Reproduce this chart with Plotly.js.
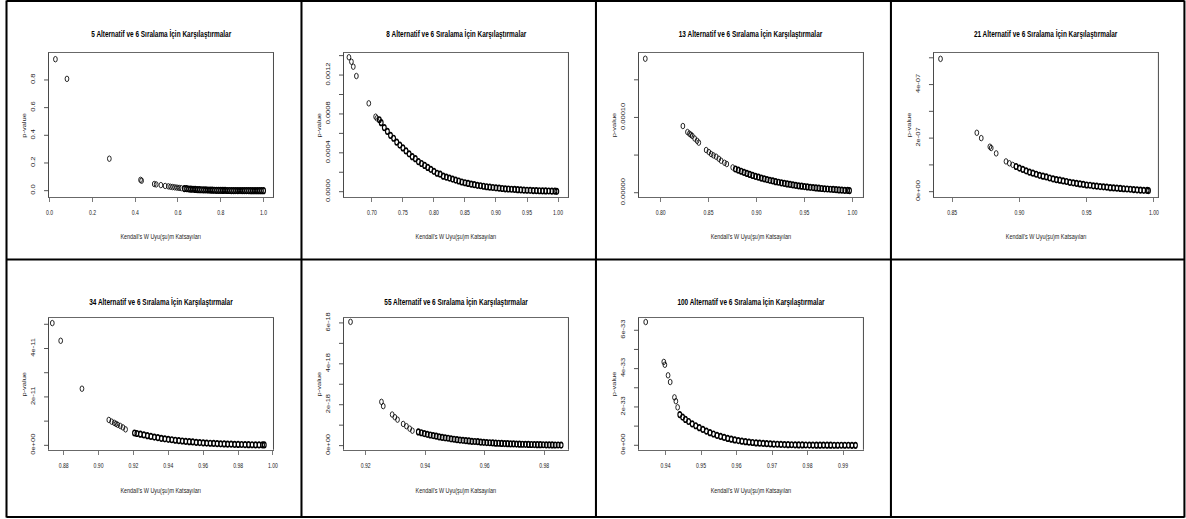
<!DOCTYPE html>
<html><head><meta charset="utf-8">
<script src="https://cdn.plot.ly/plotly-3.0.1.min.js"></script>
<style>
html,body{margin:0;padding:0;background:#fff;overflow:hidden}
#wrap{width:1186px;height:519px;overflow:hidden;position:relative}
#chart{position:absolute;left:0;top:0;transform-origin:0 0}
</style>
</head><body><div id="wrap"><div id="chart"></div></div>
<script>
// ---------- data ----------
const panelTitles = [
  "5 Alternatif ve 6 Sıralama İçin Karşılaştırmalar",
  "8 Alternatif ve 6 Sıralama İçin Karşılaştırmalar",
  "13 Alternatif ve 6 Sıralama İçin Karşılaştırmalar",
  "21 Alternatif ve 6 Sıralama İçin Karşılaştırmalar",
  "34 Alternatif ve 6 Sıralama İçin Karşılaştırmalar",
  "55 Alternatif ve 6 Sıralama İçin Karşılaştırmalar",
  "100 Alternatif ve 6 Sıralama İçin Karşılaştırmalar"
];
const xTitle = "Kendall's W Uyu(şu)m Katsayıları";
const yTitle = "p-value";

const w5 = [0.027,0.081,0.279,0.425,0.430,0.489,0.498,0.52,0.54,0.555,0.565,0.575,0.585,0.595,0.605,0.615,0.63,0.64,0.65,0.66,0.67,0.68,0.69,0.70,0.71,0.72,0.73,0.74,0.75,0.76,0.77,0.78,0.79,0.80,0.81,0.82,0.83,0.84,0.85,0.86,0.87,0.88,0.89,0.90,0.91,0.92,0.93,0.94,0.95,0.96,0.97,0.98,0.99,1.0];
const p5 = [0.95,0.808,0.231,0.078,0.072,0.048,0.045,0.040,0.034,0.031,0.028,0.026,0.024,0.022,0.020,0.018,0.015,0.014,0.012,0.011,0.010,0.009,0.008,0.007,0.0065,0.006,0.005,0.0045,0.004,0.0035,0.003,0.0027,0.0024,0.002,0.0018,0.0015,0.0013,0.0011,0.0009,0.0008,0.0007,0.0006,0.0005,0.0004,0.0003,0.00025,0.0002,0.00015,0.0001,0.00008,0.00006,0.00004,0.00002,0.00001];

const w8 = [0.663,0.667,0.670,0.675,0.695,0.706,0.708,0.712,0.715,0.72,0.725,0.73,0.735,0.74,0.745,0.75,0.755,0.76,0.765,0.77,0.775,0.78,0.785,0.79,0.795,0.80,0.805,0.81,0.815,0.82,0.825,0.83,0.835,0.84,0.845,0.85,0.855,0.86,0.865,0.87,0.875,0.88,0.885,0.89,0.895,0.90,0.905,0.91,0.915,0.92,0.925,0.93,0.935,0.94,0.945,0.95,0.955,0.96,0.965,0.97,0.975,0.98,0.985,0.99,0.995,0.998];
const p8 = [0.001383,0.001337,0.001286,0.00119,0.000909,0.000772,0.000755,0.00074,0.00071,0.00066,0.00062,0.00058,0.00055,0.00051,0.00048,0.00045,0.00042,0.00039,0.00036,0.00034,0.00031,0.00029,0.00027,0.00025,0.00023,0.00021,0.00019,0.00018,0.00016,0.00015,0.00014,0.00013,0.00012,0.00011,0.000100,0.000092,0.000085,0.000078,0.000072,0.000066,0.000061,0.000056,0.000051,0.000047,0.000043,0.000040,0.000036,0.000033,0.000030,0.000028,0.000025,0.000023,0.000021,0.000019,0.000017,0.000015,0.000014,0.000012,0.000011,0.000010,0.000009,0.000008,0.000007,0.000006,0.000005,0.000004];

const w13 = [0.784,0.8232,0.828,0.830,0.8315,0.833,0.8355,0.838,0.8398,0.8475,0.8503,0.8527,0.8551,0.8579,0.8607,0.8631,0.8666,0.869,0.8752,0.878,0.881,0.884,0.887,0.890,0.893,0.896,0.899,0.902,0.905,0.908,0.911,0.914,0.917,0.920,0.923,0.926,0.929,0.932,0.935,0.938,0.941,0.944,0.947,0.950,0.953,0.956,0.959,0.962,0.965,0.968,0.971,0.974,0.977,0.980,0.983,0.986,0.989,0.992,0.995,0.997];
const p13 = [0.000178,0.0000886,0.0000806,0.0000785,0.000077,0.0000755,0.000072,0.000069,0.0000665,0.0000567,0.000054,0.0000514,0.0000496,0.0000478,0.0000451,0.0000425,0.0000398,0.0000381,0.0000336,0.0000315,0.00003,0.0000285,0.000027,0.0000256,0.0000243,0.000023,0.0000218,0.0000206,0.0000195,0.0000185,0.0000175,0.0000165,0.0000156,0.0000147,0.0000139,0.0000131,0.0000124,0.0000117,0.000011,0.0000104,0.0000098,0.0000092,0.0000087,0.0000082,0.0000077,0.0000072,0.0000068,0.0000064,0.000006,0.0000056,0.0000052,0.0000049,0.0000046,0.0000043,0.000004,0.0000037,0.0000035,0.0000032,0.000003,0.0000028];

const w21 = [0.8413,0.8683,0.8716,0.878,0.879,0.8827,0.890,0.8925,0.895,0.8975,0.900,0.9025,0.905,0.9075,0.910,0.9125,0.915,0.9175,0.920,0.9225,0.925,0.9275,0.930,0.9325,0.935,0.9375,0.940,0.9425,0.945,0.9475,0.950,0.9525,0.955,0.9575,0.960,0.9625,0.965,0.9675,0.970,0.9725,0.975,0.9775,0.980,0.9825,0.985,0.9875,0.990,0.9925,0.995,0.996];
const p21 = [4.96e-7,2.20e-7,2.0e-7,1.68e-7,1.63e-7,1.43e-7,1.13e-7,1.06e-7,1.00e-7,0.94e-7,0.88e-7,0.83e-7,0.78e-7,0.73e-7,0.69e-7,0.65e-7,0.61e-7,0.58e-7,0.55e-7,0.51e-7,0.48e-7,0.45e-7,0.43e-7,0.40e-7,0.38e-7,0.35e-7,0.33e-7,0.31e-7,0.29e-7,0.27e-7,0.25e-7,0.24e-7,0.22e-7,0.21e-7,0.19e-7,0.18e-7,0.17e-7,0.15e-7,0.14e-7,0.13e-7,0.12e-7,0.11e-7,0.10e-7,0.09e-7,0.08e-7,0.07e-7,0.06e-7,0.05e-7,0.045e-7,0.04e-7];

const w34 = [0.8735,0.8783,0.8905,0.9059,0.9075,0.909,0.910,0.911,0.9125,0.914,0.9155,0.9206,0.922,0.924,0.926,0.928,0.930,0.932,0.934,0.936,0.938,0.940,0.942,0.944,0.946,0.948,0.950,0.952,0.954,0.956,0.958,0.960,0.962,0.964,0.966,0.968,0.970,0.972,0.974,0.976,0.978,0.980,0.982,0.984,0.986,0.988,0.990,0.992,0.994,0.995];
const p34 = [5.05e-11,4.32e-11,2.34e-11,1.05e-11,0.98e-11,0.93e-11,0.89e-11,0.85e-11,0.80e-11,0.74e-11,0.66e-11,0.51e-11,0.49e-11,0.46e-11,0.43e-11,0.40e-11,0.37e-11,0.34e-11,0.32e-11,0.29e-11,0.27e-11,0.25e-11,0.23e-11,0.21e-11,0.195e-11,0.18e-11,0.165e-11,0.15e-11,0.14e-11,0.125e-11,0.115e-11,0.105e-11,0.095e-11,0.087e-11,0.079e-11,0.071e-11,0.064e-11,0.058e-11,0.052e-11,0.047e-11,0.042e-11,0.038e-11,0.034e-11,0.030e-11,0.027e-11,0.024e-11,0.021e-11,0.019e-11,0.017e-11,0.016e-11];

const w55 = [0.9149,0.9253,0.9259,0.9289,0.9298,0.9307,0.9326,0.9337,0.9348,0.9357,0.9377,0.9387,0.9397,0.9407,0.9417,0.9427,0.9437,0.9447,0.9457,0.9467,0.9477,0.9487,0.9497,0.9507,0.9517,0.9527,0.9537,0.9547,0.9557,0.9567,0.9577,0.9587,0.9597,0.9607,0.9617,0.9627,0.9637,0.9647,0.9657,0.9667,0.9677,0.9687,0.9697,0.9707,0.9717,0.9727,0.9737,0.9747,0.9757,0.9767,0.9777,0.9787,0.9797,0.9807,0.9817,0.9827,0.9837,0.9847,0.9857];
const p55 = [6.05e-18,2.14e-18,1.93e-18,1.52e-18,1.39e-18,1.27e-18,1.06e-18,0.95e-18,0.83e-18,0.73e-18,0.67e-18,0.63e-18,0.59e-18,0.55e-18,0.52e-18,0.49e-18,0.46e-18,0.43e-18,0.40e-18,0.38e-18,0.36e-18,0.33e-18,0.31e-18,0.29e-18,0.27e-18,0.26e-18,0.24e-18,0.23e-18,0.21e-18,0.20e-18,0.19e-18,0.17e-18,0.16e-18,0.15e-18,0.14e-18,0.13e-18,0.12e-18,0.115e-18,0.107e-18,0.10e-18,0.093e-18,0.087e-18,0.081e-18,0.076e-18,0.071e-18,0.066e-18,0.062e-18,0.058e-18,0.054e-18,0.050e-18,0.047e-18,0.044e-18,0.041e-18,0.038e-18,0.036e-18,0.033e-18,0.031e-18,0.029e-18,0.027e-18];

const w100 = [0.9344,0.9395,0.9398,0.9407,0.9413,0.9425,0.9429,0.9434,0.9440,0.9448,0.9456,0.9465,0.9475,0.9485,0.9495,0.9505,0.9515,0.9525,0.9535,0.9545,0.9555,0.9565,0.9575,0.9585,0.9595,0.9605,0.9615,0.9625,0.9635,0.9645,0.9655,0.9665,0.9675,0.9685,0.9695,0.9705,0.9715,0.9725,0.9735,0.9745,0.9755,0.9765,0.9775,0.9785,0.9795,0.9805,0.9815,0.9825,0.9835,0.9845,0.9855,0.9865,0.9875,0.9885,0.9895,0.9905,0.9915,0.9925,0.9935];
const p100 = [6.43e-33,4.35e-33,4.2e-33,3.65e-33,3.3e-33,2.5e-33,2.3e-33,1.98e-33,1.60e-33,1.47e-33,1.35e-33,1.24e-33,1.12e-33,1.02e-33,0.92e-33,0.83e-33,0.74e-33,0.66e-33,0.59e-33,0.52e-33,0.46e-33,0.41e-33,0.36e-33,0.32e-33,0.28e-33,0.245e-33,0.215e-33,0.19e-33,0.165e-33,0.145e-33,0.125e-33,0.11e-33,0.095e-33,0.082e-33,0.071e-33,0.061e-33,0.053e-33,0.045e-33,0.039e-33,0.033e-33,0.028e-33,0.024e-33,0.02e-33,0.017e-33,0.014e-33,0.012e-33,0.01e-33,0.008e-33,0.007e-33,0.006e-33,0.005e-33,0.004e-33,0.003e-33,0.0025e-33,0.002e-33,0.0015e-33,0.001e-33,0.0008e-33,0.0006e-33];

// tick values and labels
const xTickVals = [[0,0.2,0.4,0.6,0.8,1.0],[0.70,0.75,0.80,0.85,0.90,0.95,1.00],[0.80,0.85,0.90,0.95,1.00],[0.85,0.90,0.95,1.00],[0.88,0.90,0.92,0.94,0.96,0.98,1.00],[0.92,0.94,0.96,0.98],[0.94,0.95,0.96,0.97,0.98,0.99]];
const xTickText = [["0.0","0.2","0.4","0.6","0.8","1.0"],["0.70","0.75","0.80","0.85","0.90","0.95","1.00"],["0.80","0.85","0.90","0.95","1.00"],["0.85","0.90","0.95","1.00"],["0.88","0.90","0.92","0.94","0.96","0.98","1.00"],["0.92","0.94","0.96","0.98"],["0.94","0.95","0.96","0.97","0.98","0.99"]];
const yTickVals = [[0,0.2,0.4,0.6,0.8],[0,0.0002,0.0004,0.0006,0.0008,0.0010,0.0012,0.0014],[0,0.00005,0.0001,0.00015],[0,1e-7,2e-7,3e-7,4e-7,5e-7],[0,1e-11,2e-11,3e-11,4e-11,5e-11],[0,1e-18,2e-18,3e-18,4e-18,5e-18,6e-18],[0,1e-33,2e-33,3e-33,4e-33,5e-33,6e-33]];
const yTickText = [["0.0","0.2","0.4","0.6","0.8"],["0.0000","","0.0004","","0.0008","","0.0012",""],["0.00000","","0.00010",""],["0e+00","","2e-07","","4e-07",""],["0e+00","","2e-11","","4e-11",""],["0e+00","","2e-18","","4e-18","","6e-18"],["0e+00","","2e-33","","4e-33","","6e-33"]];

// ---------- layout ----------
// The reference is horizontally compressed; draw wider and squeeze with CSS.
const SQ = 0.68;
const W = 1186, H = 519;
const WI = W / SQ;
const xs = [w5,w8,w13,w21,w34,w55,w100];
const ys = [p5,p8,p13,p21,p34,p55,p100];
// index where the dense band starts in each panel (drawn with heavier outlines)
const bandStart = [16, 7, 19, 9, 11, 10, 8];
const xRanges = [[-0.003,1.044],[0.655,1.016],[0.7774,1.011],[0.8364,1.003],[0.8716,1.0],[0.9127,0.988],[0.9325,0.9956]];
const yRanges = [[-0.048,0.997],[-0.0000576,0.00143],[-0.0000061,0.000186],[-0.21e-7,5.19e-7],[-0.18e-11,5.26e-11],[-0.2e-18,6.24e-18],[-0.23e-33,6.64e-33]];
const boxLeft = [49,344,639,934];
const boxW = 224;
const rowBox = [[52.7,197.3],[318,449.7]];
const titleY = [33,301];
const xTitleY = [237,490];
const FONT = "Liberation Sans, Arial, sans-serif";

const px = v => v / W;
const py = v => 1 - v / H;

const chartDiv = document.getElementById("chart");
chartDiv.style.width = WI + "px";
chartDiv.style.height = H + "px";
chartDiv.style.transform = "scaleX(" + SQ + ")";

const data = [];
const layout = {
  width: WI, height: H,
  margin: {l:0,r:0,t:0,b:0},
  paper_bgcolor: "#fff", plot_bgcolor: "#fff",
  showlegend: false,
  font: {family: FONT, color: "#000", size: 7.5},
  annotations: [], shapes: []
};

for (let i = 0; i < 7; i++) {
  const row = i < 4 ? 0 : 1;
  const col = i < 4 ? i : i - 4;
  const n = i === 0 ? "" : String(i + 1);
  const x0 = boxLeft[col], x1 = x0 + boxW;
  const [y0, y1] = rowBox[row];
  const lw = xs[i].map((_, k) => (k >= bandStart[i] ? 1.7 : 1.0));
  data.push({
    type: "scatter", mode: "markers",
    x: xs[i], y: ys[i],
    xaxis: "x" + n, yaxis: "y" + n,
    marker: {symbol: "circle-open", size: 5.5, color: "#000", line: {width: lw, color: "#000"}},
    hoverinfo: "skip"
  });
  layout["xaxis" + n] = {
    domain: [px(x0), px(x1)], range: xRanges[i], anchor: "y" + n,
    tickmode: "array", tickvals: xTickVals[i], ticktext: xTickText[i],
    ticks: "outside", ticklen: 4, tickcolor: "#333", tickwidth: 0.8, ticklabelstandoff: 4,
    showline: true, mirror: true, linecolor: "#333", linewidth: 0.9,
    showgrid: false, zeroline: false, tickfont: {size: 7.5, family: FONT, color: "#222"}
  };
  layout["yaxis" + n] = {
    domain: [py(y1), py(y0)], range: yRanges[i], anchor: "x" + n,
    tickmode: "array", tickvals: yTickVals[i], ticktext: yTickText[i],
    ticks: "outside", ticklen: 6, tickcolor: "#333", tickwidth: 1, tickangle: -90, ticklabelstandoff: 10,
    showline: true, mirror: true, linecolor: "#333", linewidth: 1.3,
    showgrid: false, zeroline: false, tickfont: {size: 7.5, family: FONT, color: "#222"}
  };
  layout.annotations.push({
    xref: "paper", yref: "paper", x: px(x0 + boxW / 2), y: py(titleY[row]),
    text: panelTitles[i], showarrow: false,
    xanchor: "center", yanchor: "middle", font: {size: 9.5, family: FONT, color: "#000", weight: "bold"}
  });
  layout.annotations.push({
    xref: "paper", yref: "paper", x: px(x0 + boxW / 2), y: py(xTitleY[row]),
    text: xTitle, showarrow: false, xanchor: "center", yanchor: "middle",
    font: {size: 8, family: FONT, color: "#222"}
  });
  layout.annotations.push({
    xref: "paper", yref: "paper", x: px(x0 - 24), y: py((y0 + y1) / 2),
    text: yTitle, showarrow: false, textangle: -90, xanchor: "center", yanchor: "middle",
    font: {size: 7.5, family: FONT, color: "#222"}
  });
}

// table grid lines
const vLines = [6.5, 301.5, 596, 891, 1184.5];
const hLines = [1, 259.5, 517];
vLines.forEach(v => layout.shapes.push({type: "line", xref: "paper", yref: "paper", x0: px(v), x1: px(v), y0: py(0.5), y1: py(517.5), line: {color: "#000", width: 3}}));
hLines.forEach(h => layout.shapes.push({type: "line", xref: "paper", yref: "paper", x0: px(6.5), x1: px(1184.5), y0: py(h), y1: py(h), line: {color: "#000", width: 2}}));

Plotly.newPlot(chartDiv, data, layout, {staticPlot: true, displayModeBar: false});
</script>
</body></html>
